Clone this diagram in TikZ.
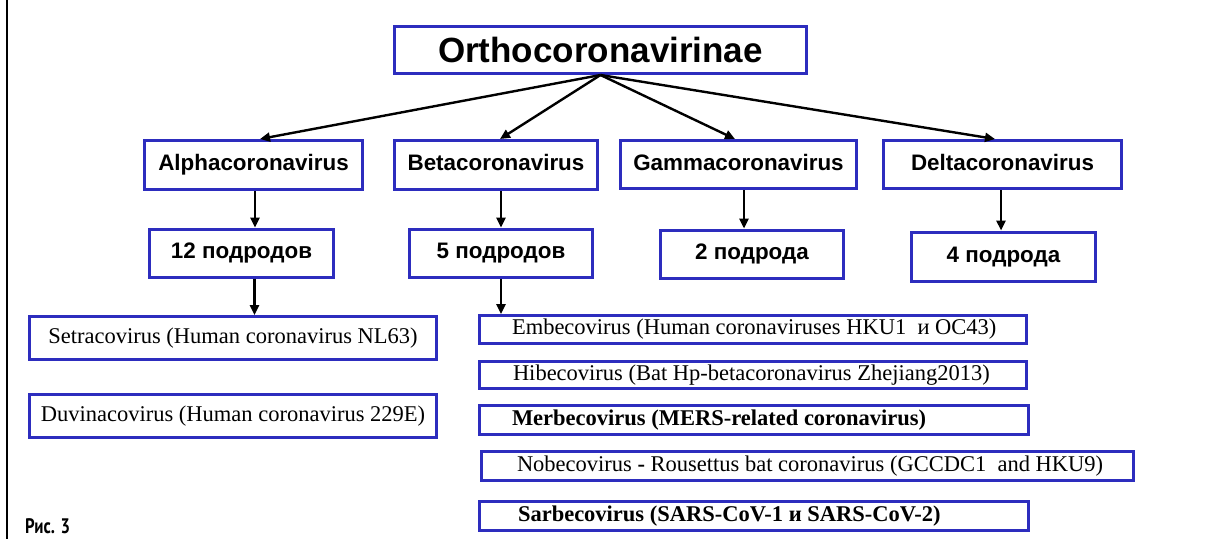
\documentclass[tikz,border=0pt]{standalone}
\usepackage{fontspec}
\setmainfont{Liberation Serif}
\newfontfamily\arialf{Liberation Sans}
\newfontfamily\figf[FakeStretch=0.8]{PT Sans}
\usetikzlibrary{arrows.meta}
\definecolor{boxblue}{RGB}{45,45,190}
\newcommand{\lbx}[2]{\makebox[#1][l]{#2}}
\begin{document}
\begin{tikzpicture}[x=1pt,y=-1pt,
  box/.style={draw=boxblue, line width=3pt, rectangle, inner sep=0pt, fill=white},
  headbox/.style={box, text height=16pt, text depth=4.5pt, font=\arialf\bfseries\fontsize{22.4}{26}\selectfont},
  subbox/.style={box, text height=15.5pt, text depth=5pt, font=\fontsize{22.5}{26}\selectfont},
  conn/.style={line width=2.4pt, -{Triangle[length=10pt,width=9pt]}}
]
\useasboundingbox (0,0) rectangle (1211,539);
\draw[line width=1.3pt] (7,0) -- (7,539);

% top
\node[box, minimum width=412pt, minimum height=47pt, text height=25pt, text depth=1pt, font=\arialf\bfseries\fontsize{35}{40}\selectfont] (top) at (600.5,50) {Orthocoronavirinae};

% level 2
\node[headbox, minimum width=218pt, minimum height=49pt] (alpha) at (253.5,165) {Alphacoronavirus};
\node[headbox, minimum width=203pt, minimum height=49pt] (beta) at (496,165) {Betacoronavirus};
\node[headbox, minimum width=236pt, minimum height=48pt] (gamma) at (738.5,164.5) {Gammacoronavirus};
\node[headbox, minimum width=238pt, minimum height=48pt] (delta) at (1002.5,164.5) {Deltacoronavirus};

% level 3
\node[headbox, minimum width=184pt, minimum height=48pt] (twelve) at (241.5,253) {12 подродов};
\node[headbox, minimum width=183pt, minimum height=48pt] (five) at (501,253) {5 подродов};
\node[headbox, minimum width=183pt, minimum height=48pt] (two) at (752,254) {2 подрода};
\node[headbox, minimum width=184pt, minimum height=49pt] (four) at (1003.5,256.5) {4 подрода};

% level 4 alpha
\node[subbox, minimum width=407pt, minimum height=43pt] (setra) at (233,338) {Setracovirus (Human coronavirus NL63)};
\node[subbox, minimum width=407pt, minimum height=43pt] (duvina) at (233,416) {Duvinacovirus (Human coronavirus 229E)};

% level 4 beta
\node[subbox, inner xsep=32.5pt, minimum height=28pt] (embe) at (753,329.5) {\lbx{482pt}{Embecovirus (Human coronaviruses HKU1\ \ и OC43)}};
\node[subbox, inner xsep=33.5pt, minimum height=27pt] (hibe) at (753,375) {\lbx{480pt}{Hibecovirus (Bat Hp-betacoronavirus Zhejiang2013)}};
\node[subbox, inner xsep=32.5pt, minimum height=29pt, font=\bfseries\fontsize{22.5}{26}\selectfont] (merbe) at (754,420) {\lbx{484pt}{Merbecovirus (MERS-related coronavirus)}};
\node[subbox, inner xsep=35.5pt, minimum height=29pt] (nobe) at (807.5,466) {\lbx{581pt}{Nobecovirus {\bfseries-} Rousettus bat coronavirus (GCCDC1\ \ and HKU9)}};
\node[subbox, inner xsep=38.5pt, minimum height=29pt, font=\bfseries\fontsize{22.5}{26}\selectfont] (sarbe) at (754,516) {\lbx{472pt}{Sarbecovirus (SARS-CoV-1 и SARS-CoV-2)}};

% connectors from top
\draw[conn] (top.south) -- ([xshift=6.5pt]alpha.north);
\draw[conn] (top.south) -- ([xshift=4pt]beta.north);
\draw[conn] (top.south) -- ([xshift=-3.5pt]gamma.north);
\draw[conn] (top.south) -- ([xshift=-7.5pt]delta.north);

% level 2 -> 3
\draw[conn] ([xshift=1.5pt]alpha.south) -- ([xshift=1.5pt]alpha.south |- twelve.north);
\draw[conn] (beta.south -| five.north) -- (five.north);
\draw[conn] ([xshift=5.5pt]gamma.south) -- ([xshift=5.5pt]gamma.south |- two.north);
\draw[conn] ([xshift=-1.5pt]delta.south) -- ([xshift=-1.5pt]delta.south |- four.north);

% level 3 -> 4
\draw[conn] ([xshift=13pt]twelve.south) -- ([xshift=13pt]twelve.south |- setra.north);
\draw[conn] (five.south) -- (five.south |- embe.north);

% figure label
\node[anchor=base west, inner sep=0pt, font=\figf\bfseries\fontsize{21}{24}\selectfont] (fig) at (25,533.5) {Рис. 3};
\end{tikzpicture}
\end{document}
